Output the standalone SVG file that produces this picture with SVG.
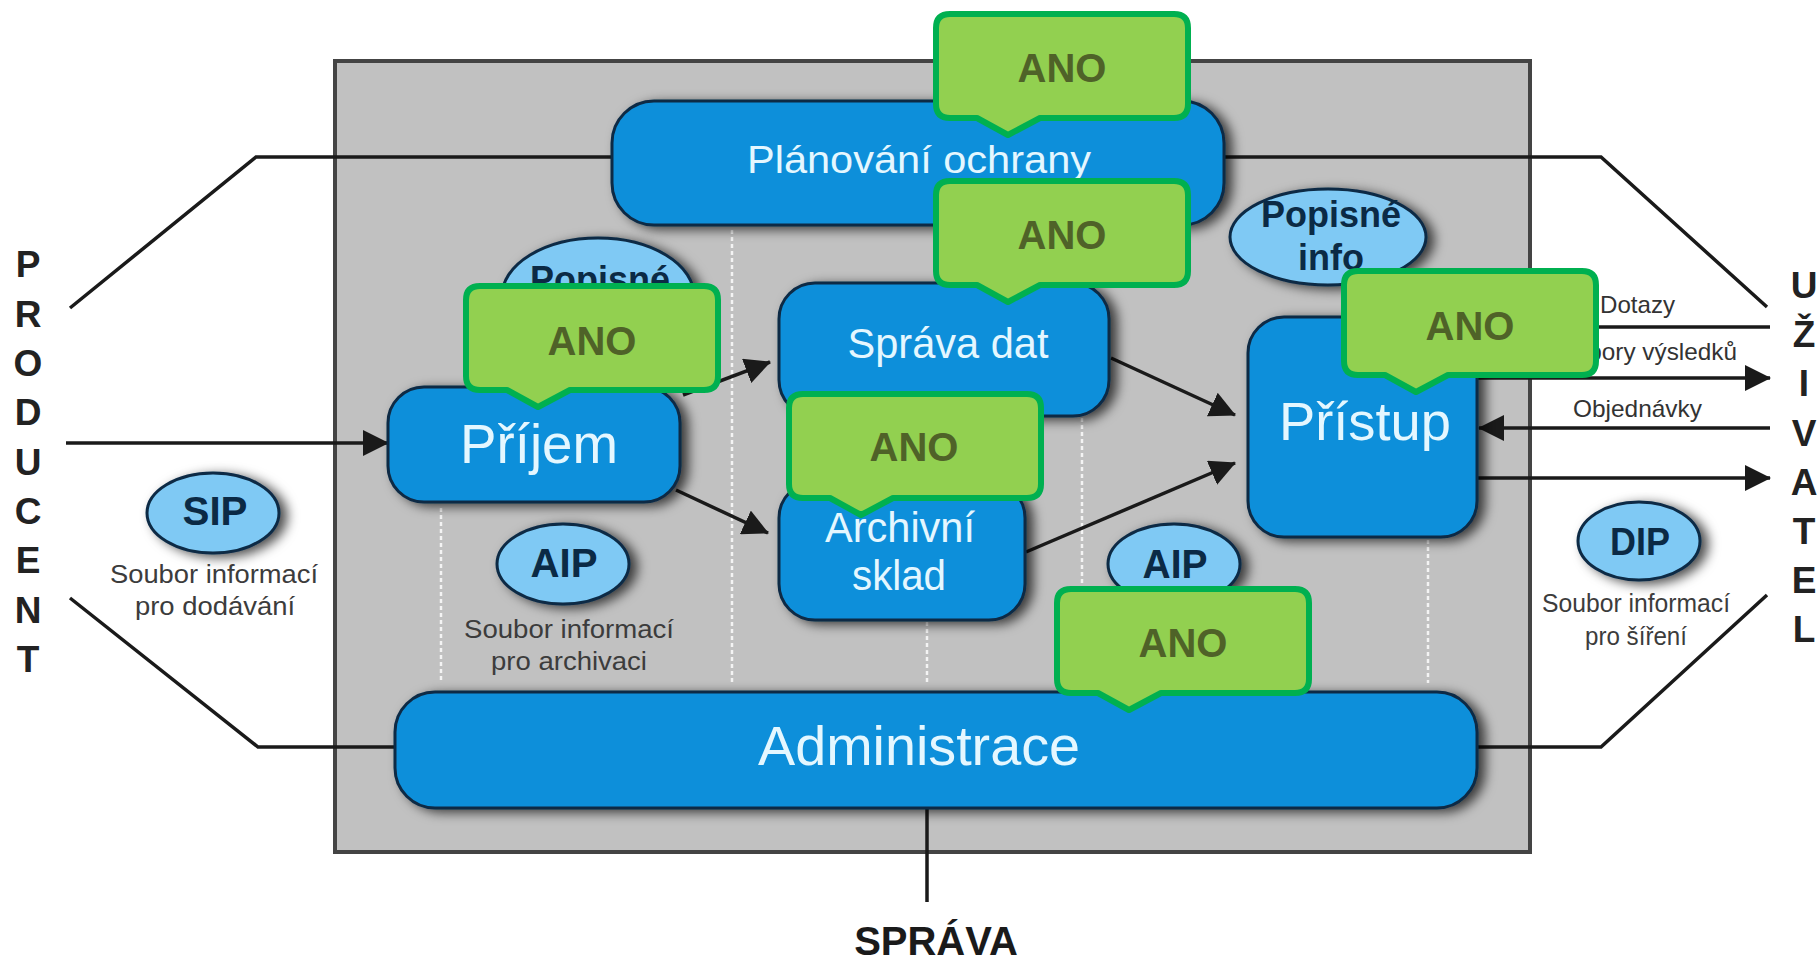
<svg xmlns="http://www.w3.org/2000/svg" xmlns:xlink="http://www.w3.org/1999/xlink" width="1820" height="960" viewBox="0 0 1820 960">
<style>
.box{fill:#0b8fda;stroke:#0b2a45;stroke-width:3}
.ell{fill:#7fc9f4;stroke:#0b2a45;stroke-width:3}
.bt{font-family:"Liberation Sans",Arial,sans-serif;fill:#e4f7ff;text-anchor:middle}
.et{font-family:"Liberation Sans",Arial,sans-serif;font-weight:bold;fill:#0b2a45;text-anchor:middle}
.gt{font-family:"Liberation Sans",Arial,sans-serif;fill:#3c3c3c;font-size:25px;text-anchor:middle}
.lt{font-family:"Liberation Sans",Arial,sans-serif;fill:#333;font-size:24px}
.vt{font-family:"Liberation Sans",Arial,sans-serif;font-weight:bold;fill:#222;font-size:37px;text-anchor:middle}
.ln{fill:none;stroke:#1a1a1a;stroke-width:3.5}
.dot{stroke:#f4f4f4;stroke-width:2.5;stroke-dasharray:4 3}
.co{fill:#92d050;stroke:#00b050;stroke-width:6;stroke-linejoin:round}
.ct{font-family:"Liberation Sans",Arial,sans-serif;font-weight:bold;font-size:40px;fill:#4f6228;text-anchor:middle}
</style>
<defs>
<filter id="sh" x="-20%" y="-30%" width="150%" height="170%">
<feGaussianBlur in="SourceAlpha" stdDeviation="6"/>
<feOffset dx="7" dy="3" result="b"/>
<feFlood flood-color="#000" flood-opacity="0.7"/>
<feComposite in2="b" operator="in"/>
<feMerge><feMergeNode/><feMergeNode in="SourceGraphic"/></feMerge>
</filter>
<marker id="ah" markerUnits="userSpaceOnUse" markerWidth="26" markerHeight="26" viewBox="0 0 26 26" refX="25" refY="13" orient="auto">
<path d="M0,0 L26,13 L0,26 Z" fill="#1a1a1a"/>
</marker>
<path id="callout" d="M14,0 H238 Q252,0 252,14 V90 Q252,104 238,104 H104 L72,121 L41,104 H14 Q0,104 0,90 V14 Q0,0 14,0 Z"/>
</defs>

<rect width="1820" height="960" fill="#fff"/>

<g id="frame">
<rect x="335" y="61" width="1195" height="791" fill="#c1c1c1" stroke="#444" stroke-width="4"/>
<line class="dot" x1="441" y1="508" x2="441" y2="683"/>
<line class="dot" x1="732" y1="230" x2="732" y2="683"/>
<line class="dot" x1="927" y1="622" x2="927" y2="683"/>
<line class="dot" x1="1082" y1="418" x2="1082" y2="683"/>
<line class="dot" x1="1428" y1="540" x2="1428" y2="683"/>
</g>

<g id="connectors">
<polyline class="ln" points="70,308 256,157 612,157"/>
<polyline class="ln" points="70,598 258,747 395,747"/>
<polyline class="ln" points="1225,157 1601,157 1767,307"/>
<polyline class="ln" points="1477,747 1601,747 1767,595"/>
<line class="ln" x1="66" y1="443" x2="388" y2="443" marker-end="url(#ah)"/>
<line class="ln" x1="927" y1="808" x2="927" y2="902"/>
<line class="ln" x1="683" y1="395" x2="770" y2="362" marker-end="url(#ah)"/>
<line class="ln" x1="676" y1="490" x2="768" y2="533" marker-end="url(#ah)"/>
<line class="ln" x1="1111" y1="358" x2="1235" y2="415" marker-end="url(#ah)"/>
<line class="ln" x1="1026" y1="552" x2="1235" y2="463" marker-end="url(#ah)"/>
<line class="ln" x1="1480" y1="327" x2="1770" y2="327"/>
<line class="ln" x1="1477" y1="378" x2="1770" y2="378" marker-end="url(#ah)"/>
<line class="ln" x1="1770" y1="428" x2="1479" y2="428" marker-end="url(#ah)"/>
<line class="ln" x1="1477" y1="478" x2="1770" y2="478" marker-end="url(#ah)"/>
</g>

<g id="producent">
<text class="vt" x="28" y="277">P</text>
<text class="vt" x="28" y="327">R</text>
<text class="vt" x="28" y="376">O</text>
<text class="vt" x="28" y="425">D</text>
<text class="vt" x="28" y="475">U</text>
<text class="vt" x="28" y="524">C</text>
<text class="vt" x="28" y="573">E</text>
<text class="vt" x="28" y="623">N</text>
<text class="vt" x="28" y="672">T</text>
</g>

<g id="uzivatel">
<text class="vt" x="1804" y="298">U</text>
<text class="vt" x="1804" y="347">Ž</text>
<text class="vt" x="1804" y="396">I</text>
<text class="vt" x="1804" y="446">V</text>
<text class="vt" x="1804" y="495">A</text>
<text class="vt" x="1804" y="544">T</text>
<text class="vt" x="1804" y="593">E</text>
<text class="vt" x="1804" y="642">L</text>
</g>

<g id="sprava-label">
<text x="936" y="955" font-family="Liberation Sans, Arial, sans-serif" font-weight="bold" font-size="40" fill="#1a1a1a" text-anchor="middle">SPRÁVA</text>
</g>

<g id="labels-right">
<text class="lt" x="1600" y="313" textLength="75" lengthAdjust="spacingAndGlyphs">Dotazy</text>
<text class="lt" x="1545" y="360" textLength="192" lengthAdjust="spacingAndGlyphs">Soubory výsledků</text>
<text class="lt" x="1573" y="417" textLength="129" lengthAdjust="spacingAndGlyphs">Objednávky</text>
</g>

<g id="planovani">
<rect class="box" filter="url(#sh)" x="612" y="101" width="612" height="124" rx="42"/>
<text class="bt" x="919" y="173" font-size="38" textLength="344" lengthAdjust="spacingAndGlyphs">Plánování ochrany</text>
</g>

<g id="popisne-left">
<ellipse class="ell" filter="url(#sh)" cx="598" cy="296" rx="96" ry="58"/>
<text class="et" x="600" y="292" font-size="36">Popisné</text>
</g>

<g id="popisne-right">
<ellipse class="ell" filter="url(#sh)" cx="1328" cy="237" rx="98" ry="48"/>
<text class="et" x="1331" y="227" font-size="36">Popisné</text>
<text class="et" x="1331" y="270" font-size="36">info</text>
</g>

<g id="prijem">
<rect class="box" filter="url(#sh)" x="388" y="387" width="292" height="115" rx="36"/>
<text class="bt" x="539" y="463" font-size="56" textLength="158" lengthAdjust="spacingAndGlyphs">Příjem</text>
</g>

<g id="sprava-dat">
<rect class="box" filter="url(#sh)" x="779" y="283" width="330" height="133" rx="36"/>
<text class="bt" x="948" y="358" font-size="42" textLength="201" lengthAdjust="spacingAndGlyphs">Správa dat</text>
</g>

<g id="archivni-sklad">
<rect class="box" filter="url(#sh)" x="779" y="482" width="246" height="138" rx="36"/>
<text class="bt" x="900" y="542" font-size="42" textLength="150" lengthAdjust="spacingAndGlyphs">Archivní</text>
<text class="bt" x="899" y="590" font-size="42" textLength="94" lengthAdjust="spacingAndGlyphs">sklad</text>
</g>

<g id="pristup">
<rect class="box" filter="url(#sh)" x="1248" y="317" width="229" height="220" rx="36"/>
<text class="bt" x="1365" y="440" font-size="54" textLength="172" lengthAdjust="spacingAndGlyphs">Přístup</text>
</g>

<g id="administrace">
<rect class="box" filter="url(#sh)" x="395" y="692" width="1082" height="116" rx="40"/>
<text class="bt" x="919" y="765" font-size="56" textLength="322" lengthAdjust="spacingAndGlyphs">Administrace</text>
</g>

<g id="sip">
<ellipse class="ell" filter="url(#sh)" cx="213" cy="513" rx="66" ry="40"/>
<text class="et" x="215" y="525" font-size="40" textLength="65" lengthAdjust="spacingAndGlyphs">SIP</text>
<text class="gt" x="214" y="583" textLength="208" lengthAdjust="spacingAndGlyphs">Soubor informací</text>
<text class="gt" x="215" y="615" textLength="160" lengthAdjust="spacingAndGlyphs">pro dodávání</text>
</g>

<g id="aip-left">
<ellipse class="ell" filter="url(#sh)" cx="563" cy="564" rx="66" ry="40"/>
<text class="et" x="564" y="577" font-size="40" textLength="67" lengthAdjust="spacingAndGlyphs">AIP</text>
<text class="gt" x="569" y="638" textLength="210" lengthAdjust="spacingAndGlyphs">Soubor informací</text>
<text class="gt" x="569" y="670" textLength="156" lengthAdjust="spacingAndGlyphs">pro archivaci</text>
</g>

<g id="aip-right">
<ellipse class="ell" filter="url(#sh)" cx="1174" cy="564" rx="66" ry="40"/>
<text class="et" x="1175" y="578" font-size="40" textLength="65" lengthAdjust="spacingAndGlyphs">AIP</text>
</g>

<g id="dip">
<ellipse class="ell" filter="url(#sh)" cx="1639" cy="541" rx="61" ry="39"/>
<text class="et" x="1640" y="555" font-size="38" textLength="60" lengthAdjust="spacingAndGlyphs">DIP</text>
<text class="gt" x="1636" y="612" textLength="188" lengthAdjust="spacingAndGlyphs">Soubor informací</text>
<text class="gt" x="1636" y="645" textLength="102" lengthAdjust="spacingAndGlyphs">pro šíření</text>
</g>

<g id="ano-1">
<use href="#callout" class="co" x="936" y="14"/>
<text class="ct" x="1062" y="82">ANO</text>
</g>
<g id="ano-2">
<use href="#callout" class="co" x="936" y="181"/>
<text class="ct" x="1062" y="249">ANO</text>
</g>
<g id="ano-3">
<use href="#callout" class="co" x="466" y="286"/>
<text class="ct" x="592" y="355">ANO</text>
</g>
<g id="ano-4">
<use href="#callout" class="co" x="789" y="394"/>
<text class="ct" x="914" y="461">ANO</text>
</g>
<g id="ano-5">
<use href="#callout" class="co" x="1344" y="271"/>
<text class="ct" x="1470" y="340">ANO</text>
</g>
<g id="ano-6">
<use href="#callout" class="co" x="1057" y="589"/>
<text class="ct" x="1183" y="657">ANO</text>
</g>
</svg>
